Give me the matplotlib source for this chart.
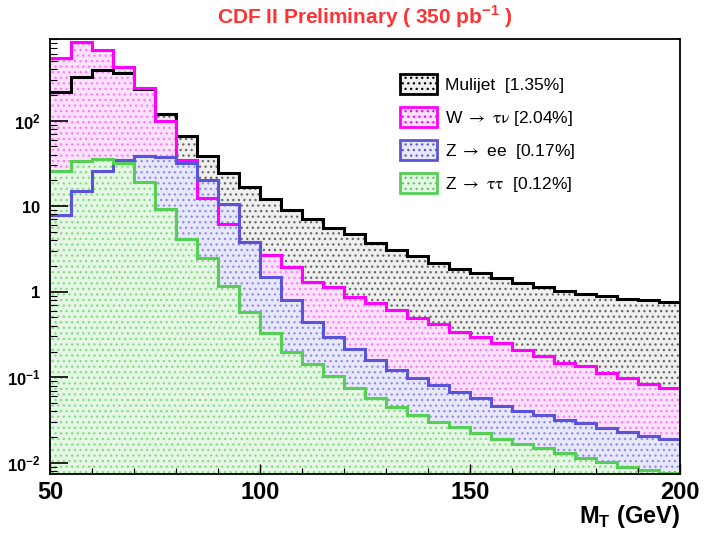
import numpy as np
import matplotlib
matplotlib.use("Agg")
import matplotlib.pyplot as plt
from matplotlib.patches import Patch
from matplotlib.font_manager import FontProperties
from matplotlib.ticker import LogLocator, NullFormatter, MultipleLocator

plt.rcParams['font.family'] = ['Liberation Sans', 'DejaVu Sans']
plt.rcParams['mathtext.fontset'] = 'custom'
plt.rcParams['mathtext.rm'] = 'Liberation Sans'
plt.rcParams['mathtext.bf'] = 'Liberation Sans:bold'
plt.rcParams['hatch.linewidth'] = 0.9

# M_T bins, 5 GeV wide, 50 -> 200
edges = np.arange(50, 205, 5)

# events per bin
multijet = [217, 325, 389, 356, 236, 121, 66, 38.5, 24.5, 16.6,
            12.1, 9.1, 7.0, 5.6, 4.7, 3.75, 3.05, 2.6, 2.15, 1.86,
            1.66, 1.45, 1.27, 1.13, 1.03, 0.94, 0.89, 0.83, 0.79, 0.75]
w_taunu = [533, 820, 666, 418, 238, 98.6, 34.6, 12.3, 6.2, 3.84,
           2.7, 1.96, 1.31, 1.14, 0.875, 0.744, 0.611, 0.489, 0.42, 0.341,
           0.293, 0.249, 0.208, 0.177, 0.148, 0.136, 0.113, 0.097, 0.083, 0.0757]
z_ee = [7.87, 15.0, 25.7, 34.5, 38.8, 37.4, 32, 20, 10.6, 3.84,
        1.47, 0.80, 0.447, 0.295, 0.212, 0.159, 0.122, 0.097, 0.081, 0.068,
        0.0568, 0.046, 0.0407, 0.0363, 0.0317, 0.029, 0.0253, 0.0231, 0.0208, 0.0189]
z_tautau = [25.9, 33.6, 36.0, 32.0, 19.0, 9.17, 4.13, 2.45, 1.17, 0.58,
            0.327, 0.199, 0.142, 0.104, 0.0743, 0.0568, 0.0454, 0.0363, 0.0303, 0.0265,
            0.0222, 0.0192, 0.0165, 0.0148, 0.0129, 0.0113, 0.0103, 0.0090, 0.0083, 0.0076]

labels = ['Mulijet  [1.35%]', r'W $\rightarrow$ $\mathrm{\tau\nu}$ [2.04%]',
          r'Z $\rightarrow$ ee  [0.17%]', r'Z $\rightarrow$ $\mathrm{\tau\tau}$  [0.12%]']
colors = ['#000000', '#ff00ff', '#5a55d8', '#55d055']
tints = ['#efefef', '#fce2fc', '#e8e8fb', '#e6f7e6']
hatchcols = ['#666666', '#ff77ff', '#8f8aea', '#80dc80']

ymin, ymax = 0.0074, 900

fig = plt.figure(figsize=(7.05, 5.33), dpi=100)
ax = fig.add_axes([50/705, 59/533, 630/705, 435/533])

series = [multijet, w_taunu, z_ee, z_tautau]
# fills first (drawn in order), then all outlines on top
for vals, tint, hc in zip(series, tints, hatchcols):
    ax.stairs(vals, edges, fill=True, baseline=ymin/2, facecolor=tint,
              edgecolor=hc, hatch='...', linewidth=0)
for vals, col in zip(series, colors):
    ax.stairs(vals, edges, baseline=None, color=col, linewidth=2.2)

ax.set_yscale('log')
ax.set_xlim(50, 200)
ax.set_ylim(ymin, ymax)

ax.set_xticks([50, 100, 150, 200])
ax.set_xticklabels(['50', '100', '150', '200'], fontsize=17, fontweight='bold')
ax.xaxis.set_minor_locator(MultipleLocator(10))
ax.set_yticks([0.01, 0.1, 1, 10, 100])
ax.set_yticklabels([r'$\mathbf{10^{-2}}$', r'$\mathbf{10^{-1}}$', r'$\mathbf{1}$',
                    r'$\mathbf{10}$', r'$\mathbf{10^{2}}$'], fontsize=12)
ax.yaxis.set_minor_locator(LogLocator(base=10, subs=np.arange(2, 10)))
ax.yaxis.set_minor_formatter(NullFormatter())

ax.tick_params(axis='x', which='major', direction='in', length=7, width=1, pad=5)
ax.tick_params(axis='x', which='minor', direction='in', length=4, width=0.8)
ax.tick_params(axis='y', which='major', direction='in', length=13, width=1.2, pad=7)
ax.tick_params(axis='y', which='minor', direction='in', length=5, width=0.8)
for s in ax.spines.values():
    s.set_linewidth(1.3)

# legend, no frame; greek letters and arrows from stix like the original
handles = [Patch(facecolor=t, edgecolor=c, hatch='...', linewidth=2) for t, c in zip(tints, colors)]
legfont = FontProperties(family='Liberation Sans', size=12.5, math_fontfamily='stix')
leg = ax.legend(handles, labels, loc='upper left', bbox_to_anchor=(0.545, 0.935),
                frameon=False, prop=legfont, handlelength=2.1, handleheight=1.4,
                labelspacing=0.72, handletextpad=0.5, borderaxespad=0)

fig.text(365/705, 1 - 17/533, r'CDF II Preliminary ( 350 pb$^{\mathbf{-1}}$ )',
         color='#ff3333', fontsize=15, fontweight='bold', ha='center', va='center')
fig.text(680/705, 1 - 517/533, r'M$_{\mathbf{T}}$ (GeV)', fontsize=17,
         fontweight='bold', ha='right', va='center')

fig.savefig('out.png', dpi=100)
